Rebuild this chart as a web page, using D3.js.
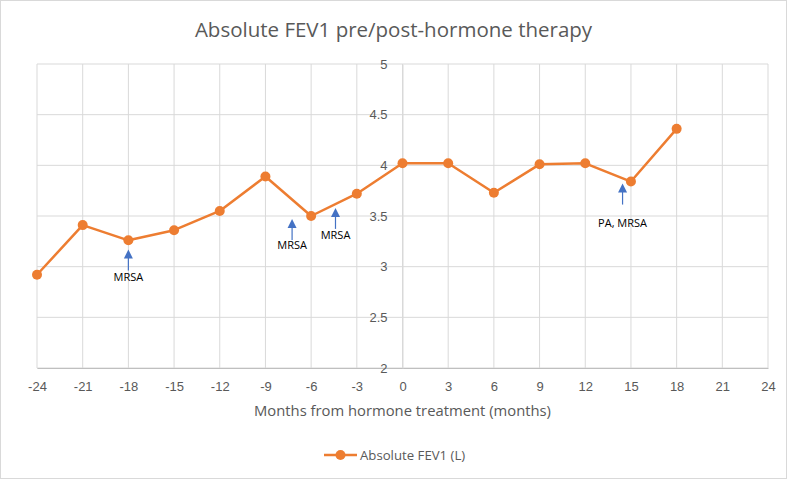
<!DOCTYPE html>
<html>
<head>
<meta charset="utf-8">
<script src="https://cdn.jsdelivr.net/npm/d3@7"></script>
<style>
  body { margin: 0; background: #fff; }
  svg { font-family: "Open Sans", "Noto Sans", sans-serif; }
</style>
</head>
<body>
<div id="chart"></div>
<script>
// data
var months = [-24, -21, -18, -15, -12, -9, -6, -3, 0, 3, 6, 9, 12, 15, 18];
var fev1 = [2.92, 3.41, 3.26, 3.36, 3.55, 3.89, 3.50, 3.72, 4.02, 4.02, 3.73, 4.01, 4.02, 3.84, 4.36];
var xTicks = d3.range(-24, 25, 3);
var yTicks = [2, 2.5, 3, 3.5, 4, 4.5, 5];
var noteMonths = [-18, -7.25, -4.4, 14.45];
var noteLevels = [3.17, 3.47, 3.58, 3.82];      // arrow tips
var noteTextLevels = [2.90, 3.21, 3.31, 3.43];  // label centres
var noteLabels = ["MRSA", "MRSA", "MRSA", "PA, MRSA"];

var W = 787, H = 480;
var margin = { top: 64, right: 19, bottom: 112, left: 37 },
  width = W - margin.left - margin.right,
  height = H - margin.top - margin.bottom;

var svg = d3.select("#chart").append("svg")
  .attr("width", W).attr("height", H);

svg.append("rect").attr("x", 0.5).attr("y", 0.5).attr("width", W - 1).attr("height", H - 2)
  .attr("fill", "#fff").attr("stroke", "#d9d9d9").attr("stroke-width", 1);

var xScale = d3.scaleLinear().domain([-24, 24]).range([0, width]);
var yScale = d3.scaleLinear().domain([2, 5]).range([height, 0]);

var g = svg.append("g").attr("transform", "translate(" + margin.left + "," + margin.top + ")");

// gridlines
g.selectAll(".hgrid").data(yTicks).enter().append("line")
  .attr("x1", 0).attr("x2", width)
  .attr("y1", function (d) { return yScale(d); }).attr("y2", function (d) { return yScale(d); })
  .attr("stroke", "#d9d9d9").attr("stroke-width", 1);
g.selectAll(".vgrid").data(xTicks).enter().append("line")
  .attr("x1", function (d) { return xScale(d); }).attr("x2", function (d) { return xScale(d); })
  .attr("y1", 0).attr("y2", height)
  .attr("stroke", "#d9d9d9").attr("stroke-width", 1);

// plain hyphen, no trailing zeros
var plain = function (d) { return String(d); };

// x axis
var xAxis = d3.axisBottom(xScale).tickValues(xTicks).tickFormat(plain).tickSize(0).tickPadding(14);
var xg = g.append("g").attr("transform", "translate(0," + height + ")").call(xAxis);
xg.select(".domain").attr("stroke", "#bfbfbf");
xg.selectAll("text").attr("fill", "#595959").style("font-size", "13px");

// y axis sits at month 0
var yAxis = d3.axisLeft(yScale).tickValues(yTicks).tickFormat(plain).tickSize(0).tickPadding(15);
var yg = g.append("g").attr("transform", "translate(" + xScale(0) + ",0)").call(yAxis);
yg.select(".domain").attr("stroke", "#d9d9d9");
yg.selectAll("text").attr("fill", "#595959").style("font-size", "13px");

// series
var line = d3.line()
  .x(function (d, i) { return xScale(months[i]); })
  .y(function (d) { return yScale(d); });
g.append("path").datum(fev1).attr("d", line)
  .attr("fill", "none").attr("stroke", "#ED7D31").attr("stroke-width", 2.5).attr("stroke-linejoin", "round");
g.selectAll(".dot").data(fev1).enter().append("circle")
  .attr("cx", function (d, i) { return xScale(months[i]); })
  .attr("cy", function (d) { return yScale(d); })
  .attr("r", 5).attr("fill", "#ED7D31");

// infection notes
var notes = g.selectAll(".note").data(noteLabels).enter().append("g")
  .attr("transform", function (d, i) { return "translate(" + xScale(noteMonths[i]) + ",0)"; });
notes.append("line").attr("x1", 0).attr("x2", 0)
  .attr("y1", function (d, i) { return yScale(noteLevels[i]) + 8; })
  .attr("y2", function (d, i) { return yScale(noteLevels[i]) + 21; })
  .attr("stroke", "#4472C4").attr("stroke-width", 1.2);
notes.append("path")
  .attr("transform", function (d, i) { return "translate(0," + yScale(noteLevels[i]) + ")"; })
  .attr("d", "M0,0L4.5,9L-4.5,9Z").attr("fill", "#4472C4");
notes.append("text").attr("x", 0)
  .attr("y", function (d, i) { return yScale(noteTextLevels[i]); })
  .attr("dy", "0.35em").attr("text-anchor", "middle")
  .attr("fill", "#000").style("font-size", "11px").text(function (d) { return d; });

// title
svg.append("text").attr("x", W / 2).attr("y", 37).attr("text-anchor", "middle")
  .attr("fill", "#595959").style("font-size", "20.5px").text("Absolute FEV1 pre/post-hormone therapy");

// x axis title
svg.append("text").attr("x", margin.left + xScale(0)).attr("y", 416).attr("text-anchor", "middle")
  .attr("fill", "#595959").style("font-size", "14.8px").text("Months from hormone treatment (months)");

// legend
var lg = svg.append("g").attr("transform", "translate(324,455)");
lg.append("line").attr("x1", 0).attr("x2", 33).attr("y1", 0).attr("y2", 0)
  .attr("stroke", "#ED7D31").attr("stroke-width", 2.5);
lg.append("circle").attr("cx", 16.5).attr("cy", 0).attr("r", 5).attr("fill", "#ED7D31");
lg.append("text").attr("x", 36).attr("y", 5).attr("fill", "#595959").style("font-size", "13.2px")
  .text("Absolute FEV1 (L)");
</script>
</body>
</html>
